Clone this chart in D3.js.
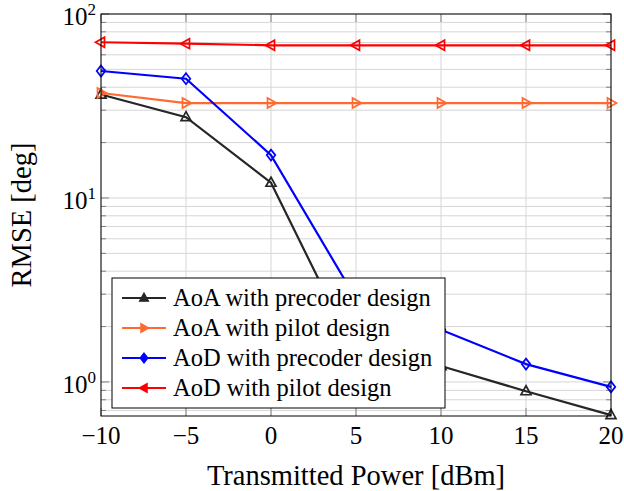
<!DOCTYPE html>
<html>
<head>
<meta charset="utf-8">
<script src="https://cdn.jsdelivr.net/npm/d3@7"></script>
<style>
  body { margin: 0; background: #fff; }
</style>
</head>
<body>
<div id="chart"></div>
<script>
const power = [-10, -5, 0, 5, 10, 15, 20];
const aoaPrecoder = [36.5, 27.5, 12.1, 1.40, 1.22, 0.89, 0.66];
const aoaPilot = [37.2, 32.8, 32.8, 32.8, 32.8, 32.8, 32.8];
const aodPrecoder = [49.0, 44.5, 17.1, 2.83, 1.92, 1.25, 0.94];
const aodPilot = [70.2, 69.0, 67.6, 67.6, 67.6, 67.6, 67.6];
const xTicks = [-10, -5, 0, 5, 10, 15, 20];
const yMajor = [1, 10, 100];
const yExp = ['0', '1', '2'];

const series = [
  { name: 'AoA with precoder design', values: aoaPrecoder, color: '#262626', mark: 'up' },
  { name: 'AoA with pilot design', values: aoaPilot, color: '#ff6a30', mark: 'right' },
  { name: 'AoD with precoder design', values: aodPrecoder, color: '#0000ff', mark: 'diamond' },
  { name: 'AoD with pilot design', values: aodPilot, color: '#ff0000', mark: 'left' }
];

const FONT = '"Liberation Serif", "DejaVu Serif", "Times New Roman", serif';
const W = 624, H = 491;
const m = { left: 101, right: 13, top: 14, bottom: 75 };
const iw = W - m.left - m.right, ih = H - m.top - m.bottom;

const x = d3.scaleLinear().domain([-10, 20]).range([0, iw]);
const y = d3.scaleLog().domain([0.653, 100]).range([ih, 0]);

const svg = d3.select('#chart').append('svg')
  .attr('width', W).attr('height', H)
  .attr('font-family', FONT);
const g = svg.append('g').attr('transform', `translate(${m.left},${m.top})`);

// minor log ticks
const yMinor = [];
[0.1, 1, 10].forEach(dec => {
  for (let k = 2; k <= 9; k++) {
    const v = dec * k;
    if (v >= y.domain()[0] && v <= 100) yMinor.push(v);
  }
});

// grid
g.append('g').selectAll('line.hg')
  .data(yMinor.concat(yMajor))
  .enter().append('line')
  .attr('x1', 0).attr('x2', iw)
  .attr('y1', d => y(d)).attr('y2', d => y(d))
  .style('stroke', '#d6d6d6').style('stroke-width', '1px');
g.append('g').selectAll('line.vg')
  .data(xTicks)
  .enter().append('line')
  .attr('x1', d => x(d)).attr('x2', d => x(d))
  .attr('y1', 0).attr('y2', ih)
  .style('stroke', '#d6d6d6').style('stroke-width', '1px');

// inward ticks on all sides
const ticks = g.append('g').style('stroke', '#808080').style('stroke-width', '1px');
xTicks.forEach(t => {
  ticks.append('line').attr('x1', x(t)).attr('x2', x(t)).attr('y1', ih).attr('y2', ih - 8);
  ticks.append('line').attr('x1', x(t)).attr('x2', x(t)).attr('y1', 0).attr('y2', 8);
});
yMajor.forEach(t => {
  ticks.append('line').attr('x1', 0).attr('x2', 8).attr('y1', y(t)).attr('y2', y(t));
  ticks.append('line').attr('x1', iw).attr('x2', iw - 8).attr('y1', y(t)).attr('y2', y(t));
});
yMinor.forEach(t => {
  ticks.append('line').attr('x1', 0).attr('x2', 5).attr('y1', y(t)).attr('y2', y(t));
  ticks.append('line').attr('x1', iw).attr('x2', iw - 5).attr('y1', y(t)).attr('y2', y(t));
});

// series
const line = d3.line().x((d, i) => x(power[i])).y(d => y(d));

// k scales the marker
function markPath(type, k) {
  const a = 5.5 * k, b = 3.5 * k, c = 5 * k;
  if (type === 'up') return `M0,${-a}L${c},${b}L${-c},${b}Z`;
  if (type === 'right') return `M${a},0L${-b},${c}L${-b},${-c}Z`;
  if (type === 'left') return `M${-a},0L${b},${c}L${b},${-c}Z`;
  return `M0,${-5.5 * k}L${4.3 * k},0L0,${5.5 * k}L${-4.3 * k},0Z`;
}

series.forEach(s => {
  g.append('path')
    .datum(s.values)
    .attr('d', line)
    .style('fill', 'none')
    .style('stroke', s.color)
    .style('stroke-width', '2.2px');
  g.selectAll(null)
    .data(s.values)
    .enter().append('path')
    .attr('transform', (d, i) => `translate(${x(power[i])},${y(d)})`)
    .attr('d', markPath(s.mark, 1))
    .style('fill', 'none')
    .style('stroke', s.color)
    .style('stroke-width', '1.7px');
});

// frame
g.append('rect')
  .attr('width', iw).attr('height', ih)
  .style('fill', 'none').style('stroke', '#000').style('stroke-width', '1px');

// x tick labels
g.append('g').selectAll('text')
  .data(xTicks)
  .enter().append('text')
  .attr('x', d => x(d)).attr('y', ih + 28)
  .attr('text-anchor', 'middle')
  .style('font-size', '25px')
  .text(d => d < 0 ? '\u2212' + Math.abs(d) : d);

// y tick labels
yMajor.forEach((t, i) => {
  const txt = g.append('text')
    .attr('x', -5).attr('y', y(t) + 11)
    .attr('text-anchor', 'end')
    .style('font-size', '25px');
  txt.append('tspan').text('10');
  txt.append('tspan').attr('dy', -10).style('font-size', '17px').text(yExp[i]);
});

// axis titles
svg.append('text')
  .attr('x', m.left + iw / 2).attr('y', 485)
  .attr('text-anchor', 'middle')
  .style('font-size', '28.5px')
  .text('Transmitted Power [dBm]');
svg.append('text')
  .attr('transform', `translate(31,${m.top + ih / 2}) rotate(-90)`)
  .attr('text-anchor', 'middle')
  .style('font-size', '28.5px')
  .text('RMSE [deg]');

// legend
const lg = svg.append('g').attr('transform', 'translate(112,278)');
lg.append('rect')
  .attr('width', 333).attr('height', 130)
  .style('fill', '#fff').style('stroke', '#000').style('stroke-width', '1px');
series.forEach((s, i) => {
  const row = lg.append('g').attr('transform', `translate(0,${20 + i * 30})`);
  row.append('line')
    .attr('x1', 10).attr('x2', 54)
    .style('stroke', s.color).style('stroke-width', '2.2px');
  row.append('path')
    .attr('transform', 'translate(32,0)')
    .attr('d', markPath(s.mark, 0.9))
    .style('fill', s.color)
    .style('stroke', s.color).style('stroke-width', '1.2px');
  row.append('text')
    .attr('x', 61).attr('y', 8)
    .style('font-size', '24.5px')
    .text(s.name);
});
</script>
</body>
</html>
